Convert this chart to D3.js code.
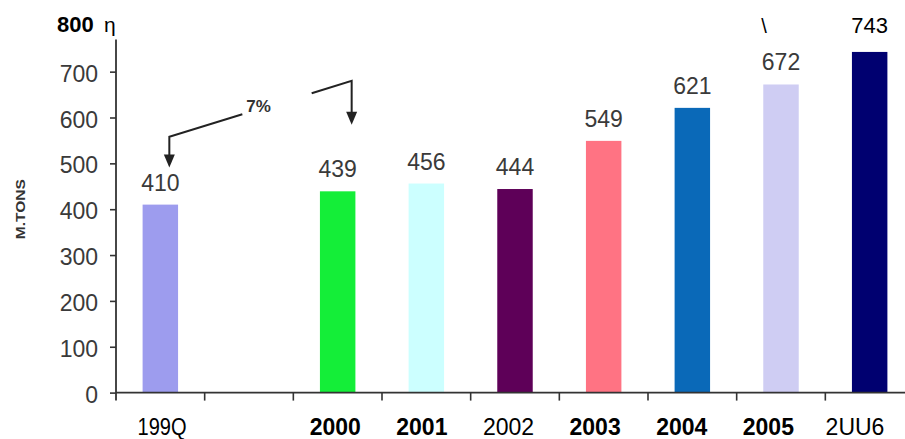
<!DOCTYPE html>
<html>
<head>
<meta charset="utf-8">
<script src="https://cdn.jsdelivr.net/npm/d3@7/dist/d3.min.js"></script>
<style>
  html, body { margin: 0; padding: 0; background: #fff; }
  svg { display: block; font-family: "Liberation Sans", Arial, sans-serif; }
</style>
</head>
<body>
<svg id="chart" width="905" height="439"></svg>
<script>
// ---- data ----
const categories = ["199Q", "", "2000", "2001", "2002", "2003", "2004", "2005", "2UU6"];
const values     = [410, null, 439, 456, 444, 549, 621, 672, 743];
const valueLabels = ["410", "", "439", "456", "444", "549", "621", "672", "743"];
const barColors  = ["#9d9cee", "none", "#14ee38", "#ccffff", "#5e0058", "#ff7383", "#0a69b8", "#cfcdf3", "#000070"];
const labelBold  = [false, false, true, true, false, true, true, true, false];
const yTicks     = [0, 100, 200, 300, 400, 500, 600, 700];
const yTopLabel  = "800";
const yTitle     = "M.TONS";
const growthLabel = "7%";

// ---- layout ----
const svg = d3.select("#chart");
const W = 905;

const y = d3.scaleLinear().domain([0, 800]).range([392.6, 25.8]);
const x = d3.scaleBand().domain(categories).range([116, 914]).paddingInner(0.6).paddingOuter(0.3);
const xl = d3.scalePoint().domain(categories).range([162, 855]);
const cx = c => x(c) + x.bandwidth() / 2;

const axisColor = "#333";
const textGray = "#3a3a3a";

// bars
svg.append("g").selectAll("rect")
  .data(categories.map((c, i) => ({ c, v: values[i], col: barColors[i] })).filter(d => d.v != null))
  .join("rect")
  .attr("x", d => x(d.c))
  .attr("width", x.bandwidth())
  .attr("y", d => y(d.v))
  .attr("height", d => y(0) - y(d.v))
  .attr("fill", d => d.col);

// y axis
const yAxis = d3.axisLeft(y).tickValues(yTicks).tickSize(6).tickPadding(12).tickFormat(d3.format("d"));
const gy = svg.append("g").attr("transform", "translate(116,0)").call(yAxis);
gy.select(".domain").remove();
gy.selectAll(".tick line").attr("stroke", axisColor).attr("stroke-width", 1.6);
gy.selectAll(".tick text")
  .attr("fill", textGray)
  .attr("font-size", "23px")
  .attr("dy", "9.5px")
  .attr("font-family", "Liberation Sans, Arial, sans-serif");
svg.append("line")
  .attr("x1", 116).attr("x2", 116)
  .attr("y1", y(770)).attr("y2", y(0) + 8)
  .attr("stroke", axisColor).attr("stroke-width", 1.8);

// x axis line + boundary ticks
svg.append("line")
  .attr("x1", x.range()[0]).attr("x2", W)
  .attr("y1", y(0)).attr("y2", y(0))
  .attr("stroke", axisColor).attr("stroke-width", 1.6);
svg.append("g").selectAll("line")
  .data(categories.slice(1))
  .join("line")
  .attr("x1", c => x(c) - x.paddingOuter() * x.step())
  .attr("x2", c => x(c) - x.paddingOuter() * x.step())
  .attr("y1", y(0)).attr("y2", y(0) + 8)
  .attr("stroke", axisColor).attr("stroke-width", 1.6);

// x labels
svg.append("g").selectAll("text")
  .data(categories.map((c, i) => ({ c, bold: labelBold[i] })).filter(d => d.c !== ""))
  .join("text")
  .attr("x", d => xl(d.c))
  .attr("y", 435)
  .attr("text-anchor", "middle")
  .attr("font-size", "23px")
  .attr("font-weight", d => d.bold ? "bold" : "normal")
  .attr("fill", "#000")
  .each(function (d) {
    if (d.c === "199Q") d3.select(this).attr("textLength", 49).attr("lengthAdjust", "spacingAndGlyphs");
  })
  .text(d => d.c);

// value labels
const last = categories.length - 1;
svg.append("g").selectAll("text")
  .data(categories.map((c, i) => ({ c, v: values[i], t: valueLabels[i], i })).filter(d => d.v != null))
  .join("text")
  .attr("x", d => cx(d.c))
  .attr("y", d => d.i === last ? y(800) + 7 : y(d.v) - 14)
  .attr("text-anchor", "middle")
  .attr("font-size", d => d.i === last ? "22px" : "23px")
  .attr("fill", d => d.i === last ? "#000" : textGray)
  .text(d => d.t);

// top "800" label
svg.append("text")
  .attr("x", 57).attr("y", y(800) + 6.5)
  .attr("font-size", "22px").attr("font-weight", "bold").attr("fill", "#000")
  .text(yTopLabel);
svg.append("text")
  .attr("x", 104).attr("y", y(800) + 6.5)
  .attr("font-size", "21px").attr("fill", "#000")
  .text("η");
svg.append("text")
  .attr("x", cx("2005") - 17).attr("y", y(800) + 7)
  .attr("text-anchor", "middle")
  .attr("font-size", "20px").attr("fill", "#000")
  .text("\\");

// y title
svg.append("text")
  .attr("transform", `translate(25,${y(400)}) rotate(-90)`)
  .attr("text-anchor", "middle")
  .attr("font-size", "12px").attr("font-weight", "bold").attr("fill", "#333")
  .attr("textLength", 60).attr("lengthAdjust", "spacingAndGlyphs")
  .text(yTitle);

// growth annotation
const ann = svg.append("g").attr("stroke", "#222").attr("stroke-width", 2).attr("fill", "none");
const a1x = cx("199Q") + 9;
const a2x = cx("2000") + 14;
ann.append("polyline")
  .attr("points", [[a1x + 73, y(607)], [a1x, y(558)], [a1x, y(505)]].map(p => p.join(",")).join(" "));
ann.append("polyline")
  .attr("points", [[a2x - 40, y(653)], [a2x, y(680)], [a2x, y(610)]].map(p => p.join(",")).join(" "));
const head = (hx, tipY) => `M${hx - 5.5},${tipY - 13}L${hx + 5.5},${tipY - 13}L${hx},${tipY}Z`;
svg.append("path").attr("d", head(a1x, y(491))).attr("fill", "#222");
svg.append("path").attr("d", head(a2x, y(584))).attr("fill", "#222");
svg.append("text")
  .attr("x", a1x + 77).attr("y", y(612))
  .attr("font-size", "17px").attr("font-weight", "bold").attr("fill", "#333")
  .text(growthLabel);
</script>
</body>
</html>
